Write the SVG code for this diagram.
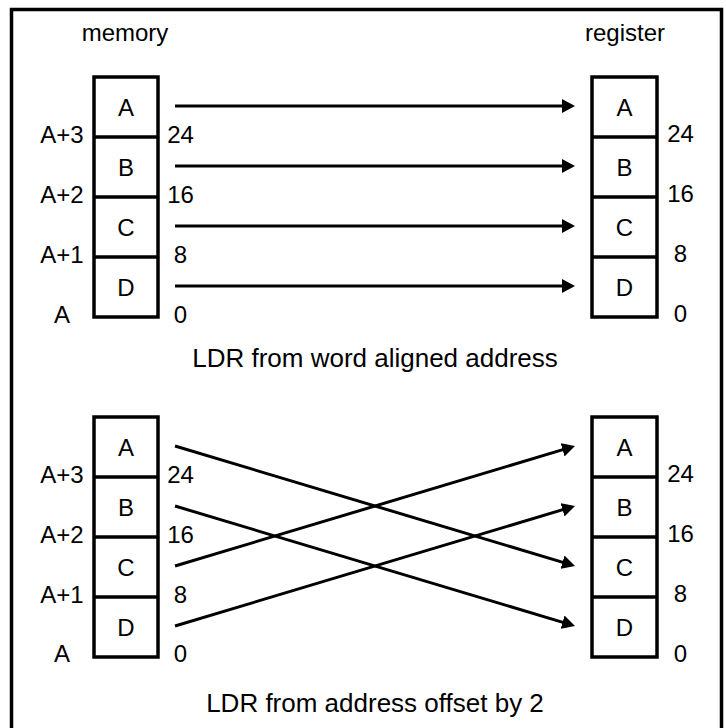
<svg xmlns="http://www.w3.org/2000/svg" width="726" height="728" viewBox="0 0 726 728">
<defs>
<style>
text{font-family:"Liberation Sans",Arial,sans-serif;font-size:24px;fill:#000}
.m{text-anchor:middle}
.cap{font-size:26px}
.box{fill:#fff;stroke:#000;stroke-width:3.5}
.div{stroke:#000;stroke-width:3.5}
.conn{stroke:#000;stroke-width:3;fill:none;marker-end:url(#ah)}
</style>
<marker id="ah" markerUnits="userSpaceOnUse" markerWidth="14" markerHeight="14" refX="3" refY="7" orient="auto" viewBox="0 0 14 14">
<path d="M0,0 L13,7 L0,14 Z" fill="#000"/>
</marker>
</defs>
<rect x="0" y="0" width="726" height="728" fill="#fff"/>
<rect x="11.5" y="9.5" width="710" height="730" fill="none" stroke="#000" stroke-width="3.5"/>

<text class="m" x="125" y="41">memory</text>
<text class="m" x="625" y="41">register</text>

<!-- top section -->
<g id="mem-top">
<rect class="box" x="94" y="77" width="64" height="240"/>
<line class="div" x1="94" y1="137" x2="158" y2="137"/>
<line class="div" x1="94" y1="197" x2="158" y2="197"/>
<line class="div" x1="94" y1="257" x2="158" y2="257"/>
<text class="m" x="126" y="115.5">A</text>
<text class="m" x="126" y="175.5">B</text>
<text class="m" x="126" y="235.5">C</text>
<text class="m" x="126" y="295.5">D</text>
<text class="m" x="62" y="143">A+3</text>
<text class="m" x="62" y="203">A+2</text>
<text class="m" x="62" y="263">A+1</text>
<text class="m" x="62" y="322.5">A</text>
<text class="m" x="180.5" y="143">24</text>
<text class="m" x="180.5" y="203">16</text>
<text class="m" x="180.5" y="263">8</text>
<text class="m" x="180.5" y="322.5">0</text>
</g>
<g id="reg-top">
<rect class="box" x="592" y="77" width="65" height="240"/>
<line class="div" x1="592" y1="137" x2="657" y2="137"/>
<line class="div" x1="592" y1="197" x2="657" y2="197"/>
<line class="div" x1="592" y1="257" x2="657" y2="257"/>
<text class="m" x="624.5" y="115.5">A</text>
<text class="m" x="624.5" y="175.5">B</text>
<text class="m" x="624.5" y="235.5">C</text>
<text class="m" x="624.5" y="295.5">D</text>
<text class="m" x="680.5" y="142">24</text>
<text class="m" x="680.5" y="202">16</text>
<text class="m" x="680.5" y="262">8</text>
<text class="m" x="680.5" y="322">0</text>
</g>
<text class="m cap" x="375" y="367">LDR from word aligned address</text>

<!-- bottom section -->
<g id="mem-bottom">
<rect class="box" x="94" y="417" width="64" height="240"/>
<line class="div" x1="94" y1="477" x2="158" y2="477"/>
<line class="div" x1="94" y1="537" x2="158" y2="537"/>
<line class="div" x1="94" y1="597" x2="158" y2="597"/>
<text class="m" x="126" y="455.5">A</text>
<text class="m" x="126" y="515.5">B</text>
<text class="m" x="126" y="575.5">C</text>
<text class="m" x="126" y="635.5">D</text>
<text class="m" x="62" y="483">A+3</text>
<text class="m" x="62" y="543">A+2</text>
<text class="m" x="62" y="603">A+1</text>
<text class="m" x="62" y="662">A</text>
<text class="m" x="180.5" y="483">24</text>
<text class="m" x="180.5" y="543">16</text>
<text class="m" x="180.5" y="603">8</text>
<text class="m" x="180.5" y="662">0</text>
</g>
<g id="reg-bottom">
<rect class="box" x="592" y="417" width="65" height="240"/>
<line class="div" x1="592" y1="477" x2="657" y2="477"/>
<line class="div" x1="592" y1="537" x2="657" y2="537"/>
<line class="div" x1="592" y1="597" x2="657" y2="597"/>
<text class="m" x="624.5" y="455.5">A</text>
<text class="m" x="624.5" y="515.5">B</text>
<text class="m" x="624.5" y="575.5">C</text>
<text class="m" x="624.5" y="635.5">D</text>
<text class="m" x="680.5" y="482">24</text>
<text class="m" x="680.5" y="542">16</text>
<text class="m" x="680.5" y="602">8</text>
<text class="m" x="680.5" y="662">0</text>
</g>
<text class="m cap" x="375" y="712">LDR from address offset by 2</text>

<g id="connectors">
<line class="conn" x1="175" y1="106" x2="565" y2="106"/>
<line class="conn" x1="175" y1="166" x2="565" y2="166"/>
<line class="conn" x1="175" y1="226" x2="565" y2="226"/>
<line class="conn" x1="175" y1="286" x2="565" y2="286"/>
<line class="conn" x1="175" y1="446" x2="565.4" y2="563.1"/>
<line class="conn" x1="175" y1="506" x2="565.4" y2="623.1"/>
<line class="conn" x1="175" y1="566" x2="565.4" y2="448.9"/>
<line class="conn" x1="175" y1="626" x2="565.4" y2="508.9"/>
</g>
</svg>
